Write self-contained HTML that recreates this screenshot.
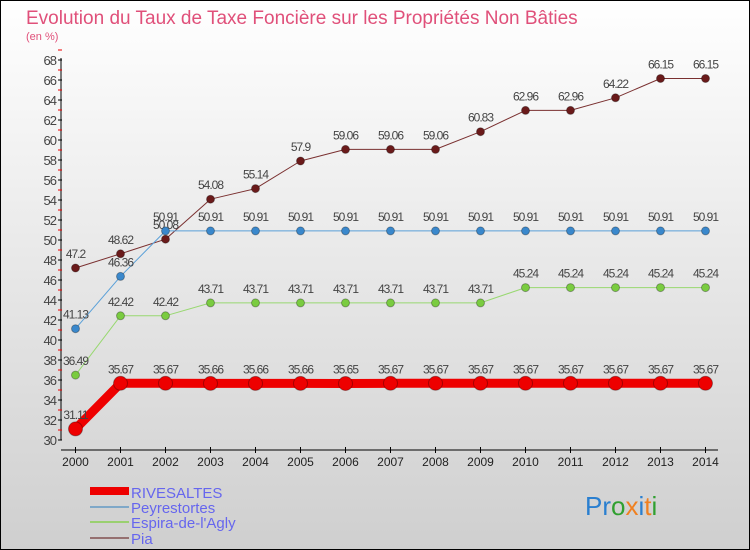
<!DOCTYPE html>
<html><head><meta charset="utf-8"><style>
body{margin:0}
svg{display:block;font-family:"Liberation Sans",sans-serif}
</style></head><body>
<svg id="c" width="750" height="550" xmlns="http://www.w3.org/2000/svg">
<defs><linearGradient id="bg" x1="0" y1="0" x2="0" y2="1"><stop offset="0" stop-color="#ffffff"/><stop offset="1" stop-color="#cfcfcf"/></linearGradient></defs>
<rect x="0.5" y="0.5" width="749" height="549" fill="url(#bg)" stroke="#000"/>
<text x="26" y="24" font-size="19" fill="#e0507a">Evolution du Taux de Taxe Foncière sur les Propriétés Non Bâties</text>
<text x="26" y="40" font-size="11" fill="#e0507a">(en %)</text>
<g id="axes"></g><g id="series"></g>
<g>
<rect x="90" y="487" width="39" height="8" fill="#ee0000"/>
<line x1="90" y1="507" x2="129" y2="507" stroke="#7fa8c8" stroke-width="2"/>
<line x1="90" y1="522" x2="129" y2="522" stroke="#9ad070" stroke-width="2"/>
<line x1="90" y1="538" x2="129" y2="538" stroke="#957070" stroke-width="2"/>
<g font-size="15" fill="#6666ee">
<text x="131" y="498">RIVESALTES</text>
<text x="131" y="513">Peyrestortes</text>
<text x="131" y="528">Espira-de-l'Agly</text>
<text x="131" y="544">Pia</text>
</g></g>
<text x="585" y="515" font-size="26"><tspan fill="#2a7fd0">Pr</tspan><tspan fill="#30a030">o</tspan><tspan fill="#f08020">x</tspan><tspan fill="#2a7fd0">i</tspan><tspan fill="#f08020">t</tspan><tspan fill="#30a030">i</tspan></text>
</svg>
<script>
const years=[2000,2001,2002,2003,2004,2005,2006,2007,2008,2009,2010,2011,2012,2013,2014];
const rivesaltes=[31.11,35.67,35.67,35.66,35.66,35.66,35.65,35.67,35.67,35.67,35.67,35.67,35.67,35.67,35.67];
const peyrestortes=[41.13,46.36,50.91,50.91,50.91,50.91,50.91,50.91,50.91,50.91,50.91,50.91,50.91,50.91,50.91];
const espira=[36.49,42.42,42.42,43.71,43.71,43.71,43.71,43.71,43.71,43.71,45.24,45.24,45.24,45.24,45.24];
const pia=[47.2,48.62,50.08,54.08,55.14,57.9,59.06,59.06,59.06,60.83,62.96,62.96,64.22,66.15,66.15];
const yTicks=[30,32,34,36,38,40,42,44,46,48,50,52,54,56,58,60,62,64,66,68];
const NS="http://www.w3.org/2000/svg";
const xs=i=>75.5+i*45, ys=v=>440-(v-30)*10;
function mk(p,t,a){const e=document.createElementNS(NS,t);for(const k in a)e.setAttribute(k,a[k]);p.appendChild(e);return e;}
const ax=document.getElementById('axes');
let yl=mk(ax,'line',{x1:61,y1:58,x2:61,y2:440,stroke:'#000'});


let xl=mk(ax,'line',{x1:61,y1:450,x2:718,y2:450,stroke:'#000'});


yTicks.forEach(v=>{
 mk(ax,'line',{x1:58,y1:ys(v),x2:62,y2:ys(v),stroke:'#000'});
 mk(ax,'line',{x1:58,y1:ys(v+1),x2:62,y2:ys(v+1),stroke:'#e00'});
 const t=mk(ax,'text',{x:56,y:ys(v)+5,'font-size':13,'text-anchor':'end',fill:'#444','letter-spacing':'-1'});
 t.textContent=v;
 
 
});
years.forEach((y,i)=>{
 mk(ax,'line',{x1:xs(i),y1:447,x2:xs(i),y2:453,stroke:'#000'});
 const t=mk(ax,'text',{x:xs(i),y:466,'font-size':12,'text-anchor':'middle',fill:'#222'});
 t.textContent=y;
 
 
});
const sg=document.getElementById('series');
function series(name,vals,col,w,r,mc){
 const g=mk(sg,'g',{});
 
 
 mk(g,'polyline',{points:vals.map((v,i)=>xs(i)+','+ys(v)).join(' '),fill:'none',stroke:col,'stroke-width':w,'stroke-linejoin':'round'});
 vals.forEach((v,i)=>{
  const c=mk(g,'circle',{cx:xs(i),cy:ys(v),r:r,fill:mc,stroke:'rgba(0,0,0,0.3)'});
  
  
  const t=mk(g,'text',{x:xs(i),y:ys(v)-10,'font-size':12,'text-anchor':'middle',fill:'#444','letter-spacing':'-1'});
  t.textContent=v;
  
  
 });
}
series('pia',pia,'#7a3030',1,4,'#6a1a1a');
series('peyrestortes',peyrestortes,'#5aa0d8',1,4,'#3a88cc');
series('espira',espira,'#98d870',1,4,'#7acc40');
series('rivesaltes',rivesaltes,'#ee0000',9,7,'#ee0000');
</script>
</body></html>
